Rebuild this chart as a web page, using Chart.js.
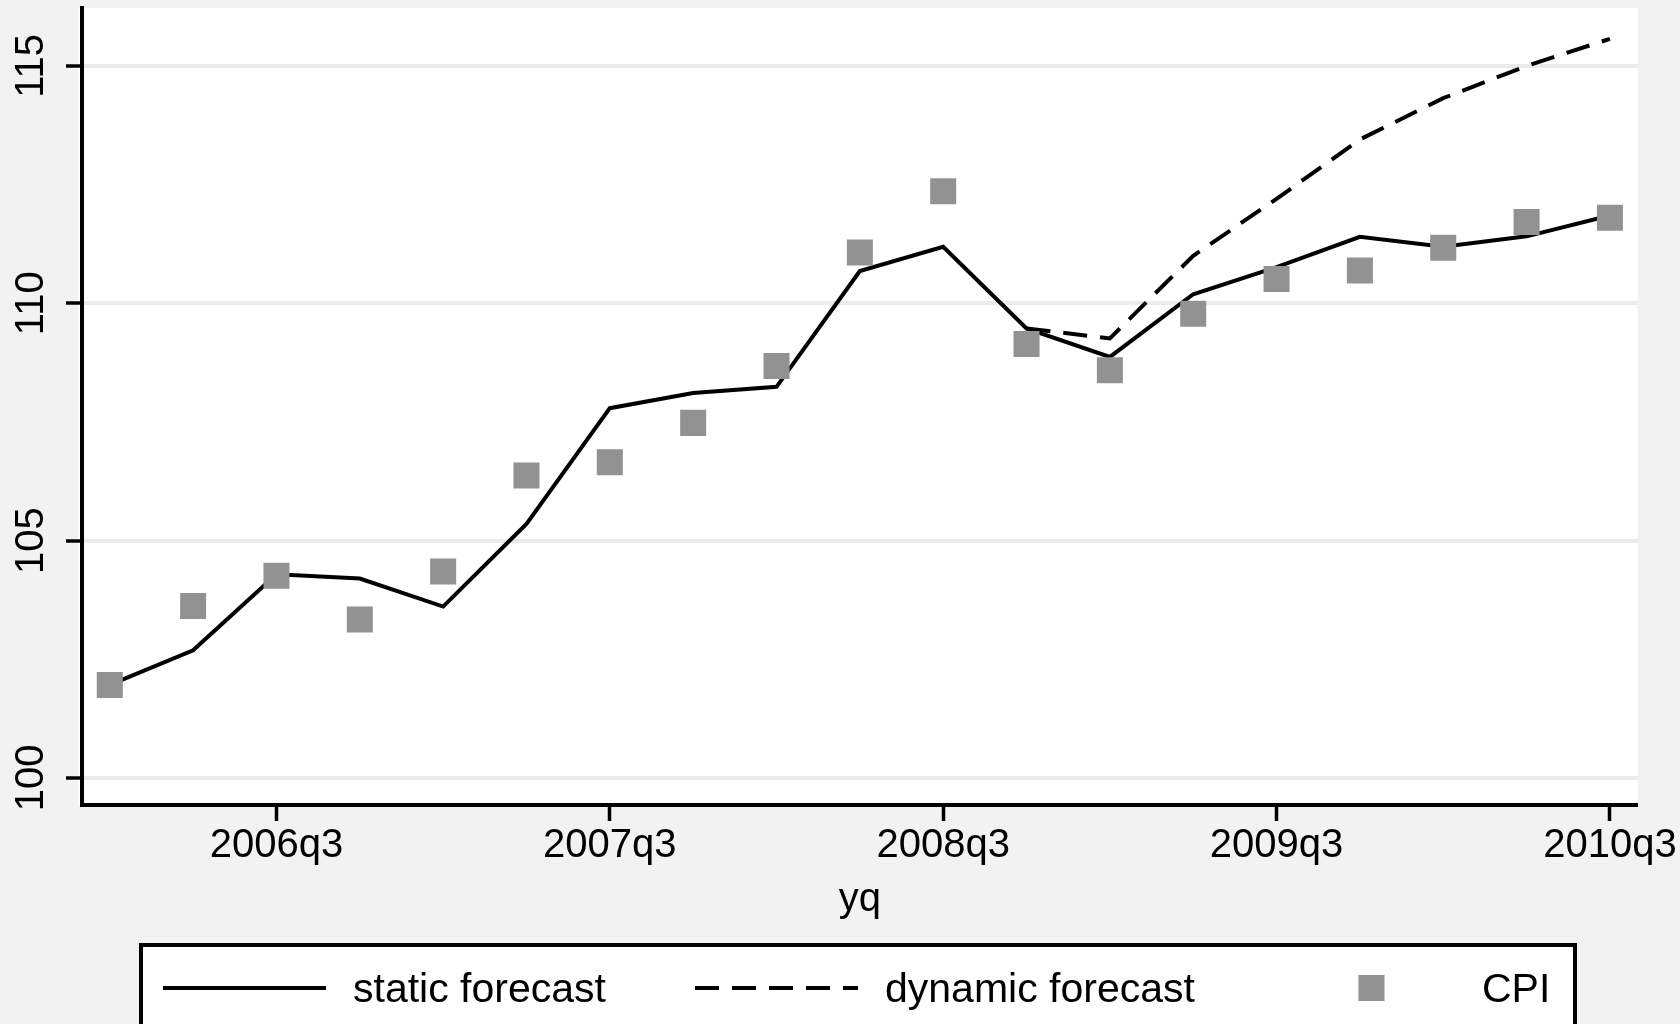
<!DOCTYPE html>
<html>
<head>
<meta charset="utf-8">
<script src="https://cdn.jsdelivr.net/npm/chart.js@4"></script>
<style>
  html, body { margin: 0; padding: 0; background: #f2f2f2; }
  canvas { display: block; }
</style>
</head>
<body>
<canvas id="cpi" width="1680" height="1024"></canvas>
<script>
// quarters, 2006q1 .. 2010q3
const quarters = ['2006q1', '2006q2', '2006q3', '2006q4', '2007q1', '2007q2', '2007q3', '2007q4',
  '2008q1', '2008q2', '2008q3', '2008q4', '2009q1', '2009q2', '2009q3', '2009q4',
  '2010q1', '2010q2', '2010q3'];
const staticForecast = [101.96, 102.69, 104.29, 104.20, 103.61, 105.35, 107.79, 108.11, 108.24, 110.68,
  111.19, 109.47, 108.87, 110.19, 110.76, 111.40, 111.19, 111.41, 111.85];
const dynamicForecast = [null, null, null, null, null, null, null, null, null, null,
  null, 109.47, 109.26, 111.00, 112.20, 113.45, 114.32, 115.00, 115.57];
const cpi = [101.96, 103.62, 104.26, 103.34, 104.35, 106.37, 106.65, 107.48, 108.68, 111.07,
  112.36, 109.14, 108.59, 109.78, 110.51, 110.69, 111.17, 111.71, 111.80];
const yTicks = [100, 105, 110, 115];
const xTickLabels = ['2006q3', '2007q3', '2008q3', '2009q3', '2010q3'];

const FONT = "'Liberation Sans', Arial, Helvetica, sans-serif";
const toPoints = arr => arr.map((v, i) => ({x: i, y: v}));

// grey page + white plot region
const plotBg = {
  id: 'plotBg',
  beforeDraw(chart) {
    const {ctx, chartArea: a} = chart;
    ctx.save();
    ctx.fillStyle = '#f2f2f2';
    ctx.fillRect(0, 0, chart.width, chart.height);
    ctx.fillStyle = '#ffffff';
    ctx.fillRect(a.left - 4, a.top, a.right - a.left + 4, a.bottom - a.top);
    ctx.restore();
  }
};

// stata style legend box under the axis title
const boxLegend = {
  id: 'boxLegend',
  afterDraw(chart) {
    const ctx = chart.ctx;
    const top = 945, left = 141, right = 1575;
    const keyY = 988;
    const cols = [
      {x0: 163, x1: 326, tx: 353},
      {x0: 695, x1: 858, tx: 885},
      {x0: 1290, x1: 1453, tx: 1482}
    ];
    ctx.save();
    ctx.fillStyle = '#ffffff';
    ctx.fillRect(left, top, right - left, chart.height - top + 10);
    ctx.lineWidth = 4;
    ctx.strokeStyle = '#000';
    ctx.strokeRect(left, top, right - left, chart.height - top + 10);

    chart.data.datasets.forEach((ds, i) => {
      const c = cols[i];
      if (ds.showLine === false) {
        const s = ds.pointRadius * Math.SQRT2;
        ctx.fillStyle = ds.backgroundColor;
        ctx.fillRect((c.x0 + c.x1) / 2 - s / 2, keyY - s / 2, s, s);
      } else {
        ctx.beginPath();
        ctx.setLineDash(ds.borderDash || []);
        ctx.lineWidth = ds.borderWidth;
        ctx.strokeStyle = ds.borderColor;
        ctx.moveTo(c.x0, keyY);
        ctx.lineTo(c.x1, keyY);
        ctx.stroke();
        ctx.setLineDash([]);
      }
      ctx.fillStyle = '#000';
      ctx.font = '41px ' + FONT;
      ctx.textBaseline = 'alphabetic';
      ctx.textAlign = 'left';
      ctx.fillText(ds.label, c.tx, 1001.5);
    });
    ctx.restore();
  }
};

const chart = new Chart(document.getElementById('cpi'), {
  type: 'line',
  data: {
    datasets: [{
      label: 'static forecast',
      data: toPoints(staticForecast),
      borderColor: '#000',
      borderWidth: 4,
      pointRadius: 0,
      tension: 0,
      order: 1
    },
    {
      label: 'dynamic forecast',
      data: toPoints(dynamicForecast),
      borderColor: '#000',
      borderWidth: 4,
      borderDash: [24, 13],
      pointRadius: 0,
      tension: 0,
      spanGaps: false,
      order: 2
    },
    {
      label: 'CPI',
      data: toPoints(cpi),
      showLine: false,
      pointStyle: 'rect',
      pointRadius: 18.4,
      pointBorderWidth: 0,
      backgroundColor: '#929292',
      pointBackgroundColor: '#929292',
      order: 0
    }]
  },
  options: {
    responsive: false,
    animation: false,
    layout: {autoPadding: false, padding: {top: 8, right: 42.3, bottom: 0, left: 0}},
    plugins: {
      legend: {display: false},
      tooltip: {enabled: false}
    },
    scales: {
      x: {
        type: 'linear',
        min: -1 / 3,
        max: quarters.length - 1 + 1 / 3,
        afterBuildTicks: s => {
          s.ticks = xTickLabels.map(l => ({value: quarters.indexOf(l)}));
        },
        afterFit: s => {
          s.height = 219;
          s.paddingLeft = 0;
          s.paddingRight = 0;
        },
        ticks: {
          callback: v => quarters[v],
          color: '#000',
          font: {family: FONT, size: 40},
          padding: 1,
          maxRotation: 0,
          autoSkip: false
        },
        grid: {drawOnChartArea: false, tickLength: 16, tickWidth: 3.5, tickColor: '#000'},
        border: {display: true, color: '#000', width: 4},
        title: {
          display: true,
          text: 'yq',
          color: '#000',
          font: {family: FONT, size: 40},
          padding: {top: 0, bottom: 100}
        }
      },
      y: {
        min: 99.43,
        max: 116.22,
        afterBuildTicks: s => {
          s.ticks = yTicks.map(v => ({value: v}));
        },
        afterFit: s => {
          s.width = 82;
          s.paddingTop = 0;
          s.paddingBottom = 0;
        },
        ticks: {
          color: '#000',
          font: {family: FONT, size: 40},
          minRotation: 90,
          maxRotation: 90,
          crossAlign: 'center',
          padding: 1
        },
        grid: {color: '#ebebeb', lineWidth: 4, tickLength: 16, tickWidth: 3.5, tickColor: '#000'},
        border: {display: true, color: '#000', width: 4}
      }
    }
  },
  plugins: [plotBg, boxLegend]
});
</script>
</body>
</html>
